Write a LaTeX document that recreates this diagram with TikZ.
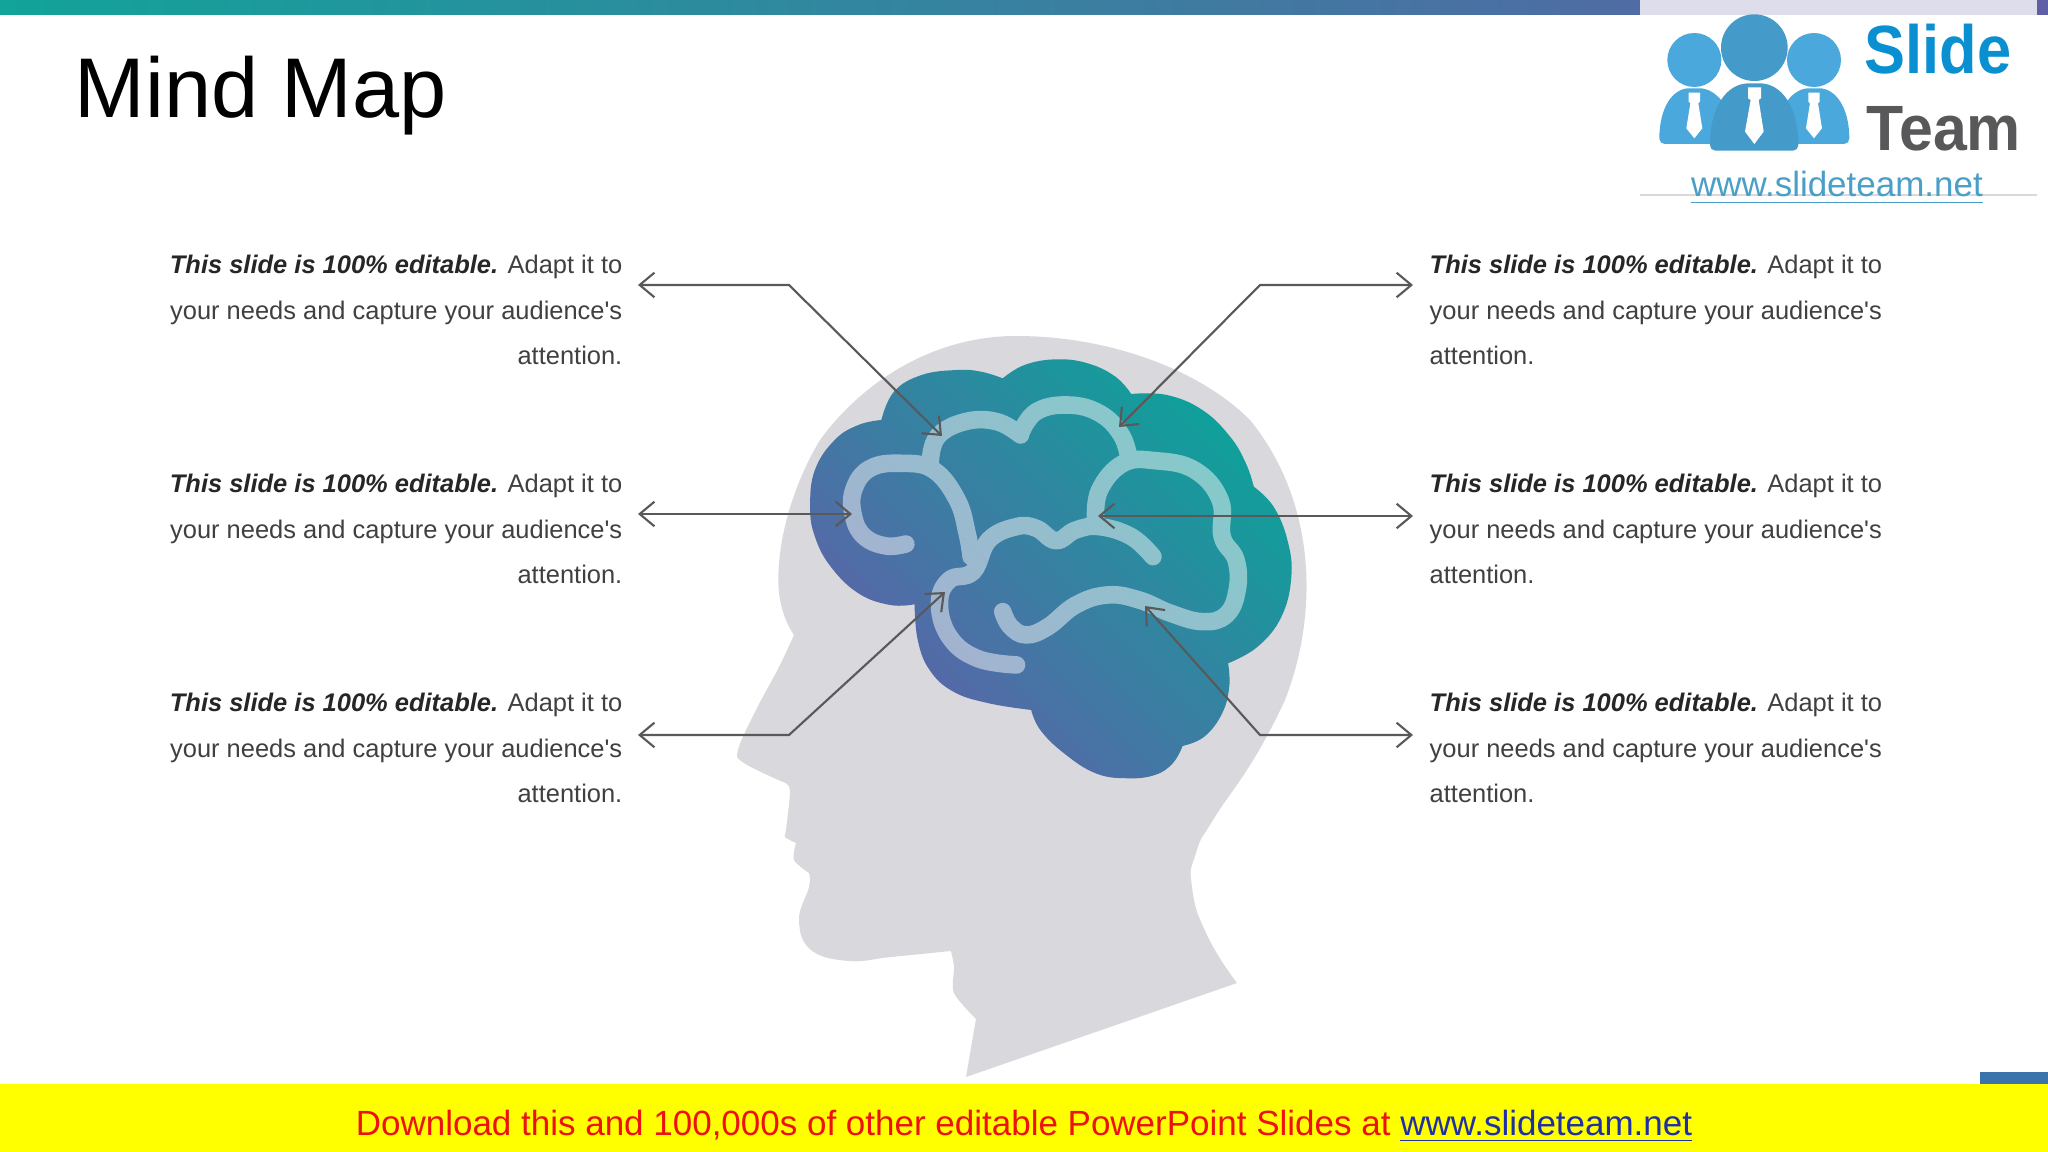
\documentclass[tikz,border=0pt]{standalone}
\usepackage{fontspec}
\setmainfont{Liberation Sans}
\usetikzlibrary{arrows.meta}
\definecolor{headgray}{HTML}{D9D8DC}
\definecolor{leadgray}{HTML}{595959}
\definecolor{bodytext}{HTML}{404040}
\definecolor{barteal}{HTML}{12A39A}
\definecolor{barpurple}{HTML}{5F5EA6}
\definecolor{brainteal}{HTML}{0FA09A}
\definecolor{brainblue}{HTML}{3A74AB}
\definecolor{brainpurple}{HTML}{6060AA}
\definecolor{logoblue}{HTML}{4AA8DC}
\definecolor{linkblue}{HTML}{4A9FC9}
\definecolor{footyellow}{HTML}{FFFF00}
\definecolor{footred}{HTML}{EE1111}
\definecolor{footblue}{HTML}{1F2FA8}
\definecolor{logoband}{HTML}{DDDDEB}
\newcommand{\notebody}{\textbf{\textit{\textcolor{black!85}{This slide is 100\% editable.}}} Adapt it to\\your needs and capture your audience\textquotesingle s\\attention.}
\tikzset{
	noteleft/.style={anchor=east,inner sep=0pt,align=right,text=bodytext,font=\fontsize{7.24}{13.05}\selectfont},
	noteright/.style={anchor=west,inner sep=0pt,align=left,text=bodytext,font=\fontsize{7.24}{13.05}\selectfont},
	leader/.style={draw=leadgray,line width=0.6pt,{Straight Barb[length=4.2pt,width=7pt]}-{Straight Barb[length=4.2pt,width=7pt]}},
	fold/.style={draw=white,line width=5pt,line cap=round,line join=round},
	linknode/.style={inner sep=0pt,anchor=base,font=\fontsize{9.95}{12}\selectfont}
}
\begin{document}
\begin{tikzpicture}[x=0.01cm,y=-0.01cm]
	\useasboundingbox (0,0) rectangle (2048,1152);
	\fill[white] (0,0) rectangle (2048,1152);
	% top bar and footer
	\shade[left color=barteal,right color=barpurple] (0,0) rectangle (2048,15);
	\fill[footyellow] (0,1084) rectangle (2048,1152);
	\fill[brainblue] (1980,1072) rectangle (2048,1084);
	\node[anchor=base west,inner sep=0pt,font=\fontsize{24.1}{28}\selectfont] (title) at (74,118) {Mind Map};
	\node[linknode,text=footred] (footer) at (1024,1135) {Download this and 100,000s of other editable PowerPoint Slides at \textcolor{footblue}{\underline{www.slideteam.net}}};
	% logo
	\fill[white] (1640,15) rectangle (2037,195);
	\fill[logoband] (1640,0) rectangle (2037,15);
	\draw[black!15,line width=0.3pt] (1640,195) -- (2037,195);
	\begin{scope}[shift={(1600,0)},xscale=0.3333,yscale=0.3333]
		\fill[logoblue] (283,180) circle[radius=81];
		\fill[logoblue] (642,180) circle[radius=81];
		\fill[logoblue,rounded corners=1.5pt] (178,432) .. controls (178,320) and (220,265) .. (283,265) .. controls (345,265) and (400,320) .. (400,432) -- cycle;
		\fill[logoblue,rounded corners=1.5pt] (530,432) .. controls (530,320) and (580,265) .. (642,265) .. controls (705,265) and (748,320) .. (748,432) -- cycle;
		\foreach \tx in {283,642}{
			\fill[white] (\tx-17,278) -- (\tx+17,278) -- (\tx+17,305) -- (\tx+12,310) -- (\tx+24,385) -- (\tx,415) -- (\tx-24,385) -- (\tx-12,310) -- (\tx-17,305) -- cycle;
		}
		\fill[logoblue!92!black] (463,143) circle[radius=100];
		\fill[logoblue!92!black,rounded corners=1.5pt] (330,452) .. controls (330,320) and (380,250) .. (463,250) .. controls (545,250) and (595,320) .. (595,452) -- cycle;
		\fill[white] (444,262) -- (483,262) -- (483,295) -- (476,300) -- (491,395) -- (463,432) -- (435,395) -- (452,300) -- (444,295) -- cycle;
	\end{scope}
	\node[anchor=base west,inner sep=0pt,xscale=0.9,font=\fontsize{19.4}{22}\selectfont\bfseries,text={rgb,255:red,10;green,143;blue,208}] (logoslide) at (1864,74) {Slide};
	\node[anchor=base west,inner sep=0pt,xscale=0.95,font=\fontsize{18.2}{22}\selectfont\bfseries,text={rgb,255:red,88;green,88;blue,90}] (logoteam) at (1866,151) {Team};
	\node[linknode,text=linkblue] (logolink) at (1837,197) {\underline{www.slideteam.net}};
	% head
	\fill[headgray] (1016,336) .. controls (930,336) and (860,385) .. (820,440) .. controls (790,490) and (775,550) .. (779,593) .. controls (781,610) and (787,625) .. (794,635)
		-- plot[smooth,tension=0.6] coordinates {(794,635) (779,667) (756,710) (738,750) (744,763) (783,782)}
		-- plot[smooth,tension=0.5] coordinates {(783,782) (790,790) (786,830) (785,837) (796,843)}
		-- plot[smooth,tension=0.5] coordinates {(796,843) (794,860) (809,873)}
		-- plot[smooth,tension=0.7] coordinates {(809,873) (809,887) (799,920) (811,950) (849,961) (891,957) (951,951)}
		-- plot[smooth,tension=0.5] coordinates {(951,951) (954,967) (954,993) (976,1019)}
		-- (966,1077) -- (1237,983)
		-- plot[smooth,tension=0.9] coordinates {(1237,983) (1207,935) (1192,887) (1196,853) (1213,820) (1255,757) (1285,700)}
		.. controls (1320,610) and (1315,500) .. (1250,420) .. controls (1200,370) and (1110,336) .. (1016,336) -- cycle;
	% brain
	\begin{scope}[shift={(720,320)},xscale=0.3954,yscale=0.3333]
		\shade[left color=brainteal,middle color=brainblue,right color=brainpurple,shading angle=-45]
			plot[smooth,tension=0.7] coordinates {(408,300) (440,215) (510,165) (600,150) (660,155) (715,175)}
			-- plot[smooth,tension=0.7] coordinates {(715,175) (770,135) (850,118) (930,130) (1000,170) (1040,222)}
			-- plot[smooth,tension=0.7] coordinates {(1040,222) (1130,225) (1220,270) (1290,350) (1330,430) (1350,500)}
			-- plot[smooth,tension=0.7] coordinates {(1350,500) (1400,560) (1435,660) (1445,770) (1420,890) (1360,980) (1285,1030)}
			-- plot[smooth,tension=0.7] coordinates {(1285,1030) (1288,1100) (1270,1180) (1225,1250) (1170,1278)}
			-- plot[smooth,tension=0.7] coordinates {(1170,1278) (1145,1330) (1100,1365) (1030,1375) (950,1360) (870,1300) (810,1230) (787,1170)}
			-- plot[smooth,tension=0.7] coordinates {(787,1170) (680,1150) (590,1115) (530,1050) (500,960) (492,853)}
			-- plot[smooth,tension=0.7] coordinates {(492,853) (430,855) (350,820) (280,740) (240,650) (228,560) (240,450) (290,360) (350,315) (408,300)} -- cycle;
		\begin{scope}[transparency group,opacity=0.48]
			\draw[fold] plot[smooth,tension=0.7] coordinates {(470,672) (420,678) (365,650) (338,590) (338,510) (380,445) (460,430) (540,450) (600,540) (625,640) (635,710)};
			\draw[fold] plot[smooth,tension=0.7] coordinates {(532,425) (550,350) (620,305) (700,305) (760,345)};
			\draw[fold] plot[smooth,tension=0.7] coordinates {(760,340) (800,275) (880,255) (960,280) (1015,345) (1035,420)};
			\draw[fold] plot[smooth,tension=0.7] coordinates {(950,600) (960,510) (1020,430) (1100,422) (1200,450) (1265,540) (1270,650) (1305,720) (1308,810) (1280,885) (1220,905) (1140,880) (1060,840) (980,825) (900,855) (830,920) (775,945) (735,920) (715,875)};
			\draw[fold] plot[smooth,tension=0.7] coordinates {(1095,710) (1040,650) (960,620) (900,630) (850,662) (800,625) (750,620) (680,660) (640,755) (580,780) (555,850) (580,950) (650,1015) (750,1035)};
		\end{scope}
	\end{scope}
	% notes
	\node[noteleft] (notea) at (623,310) {\notebody};
	\node[noteleft] (noteb) at (623,529) {\notebody};
	\node[noteleft] (notec) at (623,748) {\notebody};
	\node[noteright] (noted) at (1429,310) {\notebody};
	\node[noteright] (notee) at (1429,529) {\notebody};
	\node[noteright] (notef) at (1429,748) {\notebody};
	% leaders
	\coordinate (enda) at (638,285);
	\coordinate (benda) at (789,285);
	\coordinate (tipa) at (942,436);
	\coordinate (endb) at (638,514);
	\coordinate (tipb) at (852,514);
	\coordinate (endc) at (638,735);
	\coordinate (bendc) at (789,735);
	\coordinate (tipc) at (945,592);
	\coordinate (endd) at (1413,285);
	\coordinate (bendd) at (1260,285);
	\coordinate (tipd) at (1119,427);
	\coordinate (ende) at (1413,516);
	\coordinate (tipe) at (1098,516);
	\coordinate (endf) at (1413,735);
	\coordinate (bendf) at (1260,735);
	\coordinate (tipf) at (1145,606);
	\draw[leader] (enda) -- (benda) -- (tipa);
	\draw[leader] (endb) -- (tipb);
	\draw[leader] (endc) -- (bendc) -- (tipc);
	\draw[leader] (endd) -- (bendd) -- (tipd);
	\draw[leader] (ende) -- (tipe);
	\draw[leader] (endf) -- (bendf) -- (tipf);
\end{tikzpicture}
\end{document}
